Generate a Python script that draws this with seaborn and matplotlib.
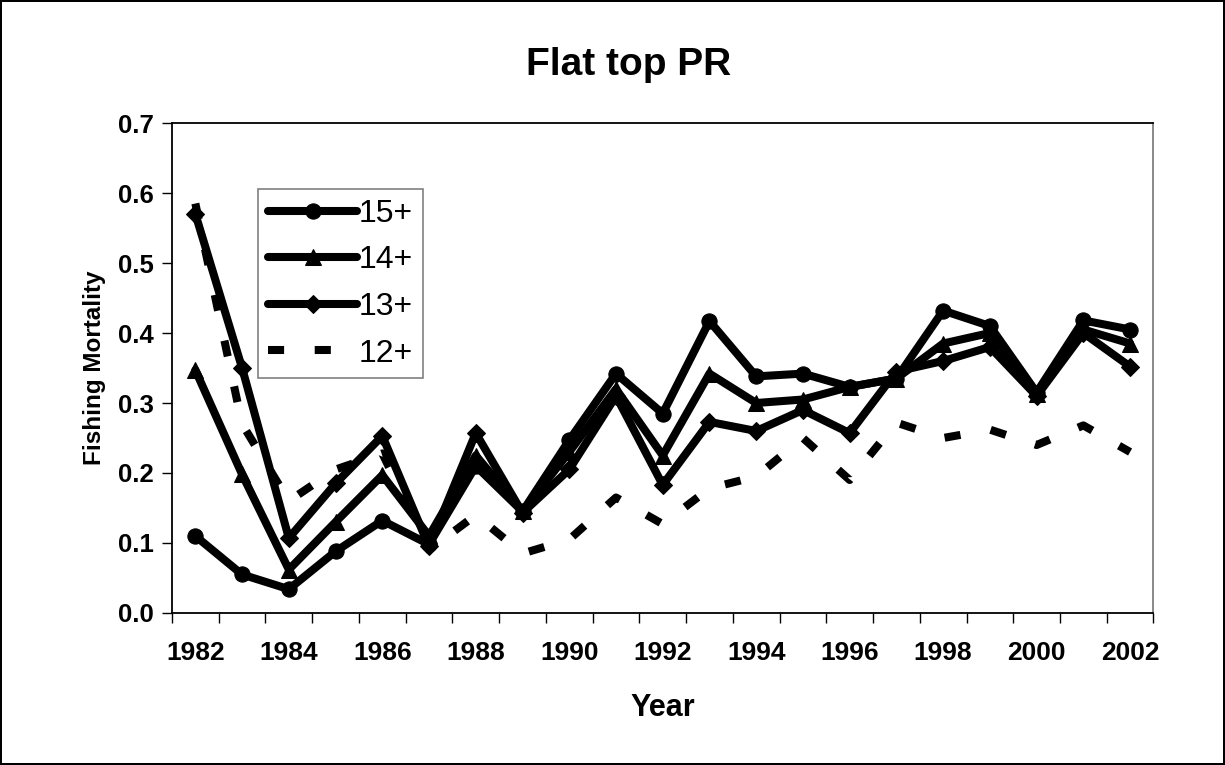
import numpy as np
import pandas as pd
import matplotlib
matplotlib.use("Agg")
import matplotlib.pyplot as plt
import seaborn as sns

# Values
years = list(range(1982, 2003))
f15 = [0.110, 0.055, 0.034, 0.088, 0.132, 0.098, 0.210, 0.145, 0.247, 0.342, 0.285,
       0.417, 0.338, 0.342, 0.323, 0.335, 0.432, 0.410, 0.315, 0.418, 0.405]
f14 = [0.347, 0.198, 0.062, 0.130, 0.197, 0.110, 0.225, 0.145, 0.230, 0.320, 0.225,
       0.342, 0.300, 0.305, 0.323, 0.335, 0.385, 0.400, 0.313, 0.405, 0.385]
f13 = [0.570, 0.350, 0.107, 0.185, 0.253, 0.095, 0.257, 0.143, 0.205, 0.310, 0.183,
       0.273, 0.260, 0.290, 0.257, 0.345, 0.360, 0.380, 0.310, 0.400, 0.352]
f12 = [0.585, 0.270, 0.160, 0.205, 0.228, 0.090, 0.140, 0.085, 0.105, 0.165, 0.127,
       0.178, 0.195, 0.250, 0.190, 0.272, 0.250, 0.262, 0.240, 0.268, 0.230]
series_names = ["15+", "14+", "13+", "12+"]

sns.set_theme(style="white")
plt.rcParams['font.family'] = ['Liberation Sans', 'DejaVu Sans']
plt.rcParams['text.color'] = 'black'
plt.rcParams['axes.labelcolor'] = 'black'
plt.rcParams['xtick.color'] = 'black'
plt.rcParams['ytick.color'] = 'black'

fig = plt.figure(figsize=(12.25, 7.65), dpi=100)
fig.patch.set_edgecolor("black")
fig.patch.set_linewidth(1.5)
ax = fig.add_axes([0.1404, 0.1987, 0.8012, 0.6405])

lw = 5.8
sns.lineplot(x=years, y=f15, ax=ax, color="black", lw=lw, marker="o", markersize=11,
             markeredgecolor="black", label=series_names[0])
sns.lineplot(x=years, y=f14, ax=ax, color="black", lw=lw, marker="^", markersize=11,
             markeredgecolor="black", label=series_names[1])
sns.lineplot(x=years, y=f13, ax=ax, color="black", lw=lw, marker="D", markersize=9,
             markeredgecolor="black", label=series_names[2])
sns.lineplot(x=years, y=f12, ax=ax, color="black", lw=lw, marker=None,
             label=series_names[3])
ax.lines[-1].set_dashes((2, 3.8))
ax.lines[-1].set_dash_capstyle("butt")

ax.set_xlim(1981.5, 2002.5)
ax.set_ylim(0, 0.7)
ax.set_xticks(years[::2])
ax.set_xticks(np.arange(1981.5, 2003, 1.0), minor=True)
ax.set_yticks(np.arange(0, 0.71, 0.1))
ax.set_yticklabels([f"{v:.1f}" for v in np.arange(0, 0.71, 0.1)])
ax.tick_params(axis="x", which="major", length=0, pad=20, labelsize=19)
ax.tick_params(axis="x", which="minor", length=7, width=1, color="black", direction="out", bottom=True)
ax.tick_params(axis="y", length=7, width=1, color="black", direction="out", left=True, labelsize=18.5, pad=6)
for lab in ax.get_xticklabels() + ax.get_yticklabels():
    lab.set_fontweight("bold")

for s in ["left", "bottom", "top"]:
    ax.spines[s].set_color("black")
    ax.spines[s].set_linewidth(1.3)
ax.spines["right"].set_color("#808080")
ax.spines["right"].set_linewidth(1.3)

ax.set_xlabel("Year", fontsize=22, fontweight="bold", labelpad=20)
ax.set_ylabel("Fishing Mortality", fontsize=17.5, fontweight="bold", labelpad=9)
fig.text(0.513, 0.915, "Flat top PR", ha="center", va="center", fontsize=28, fontweight="bold")

leg = ax.legend(loc="upper left", bbox_to_anchor=(0.088, 0.865), fontsize=23,
                handlelength=2.8, handletextpad=0.05, borderpad=0.3, labelspacing=0.52,
                frameon=True, fancybox=False, framealpha=1, borderaxespad=0)
leg.get_frame().set_edgecolor("#808080")
leg.get_frame().set_linewidth(1.2)

fig.savefig("out.png", dpi=100)
